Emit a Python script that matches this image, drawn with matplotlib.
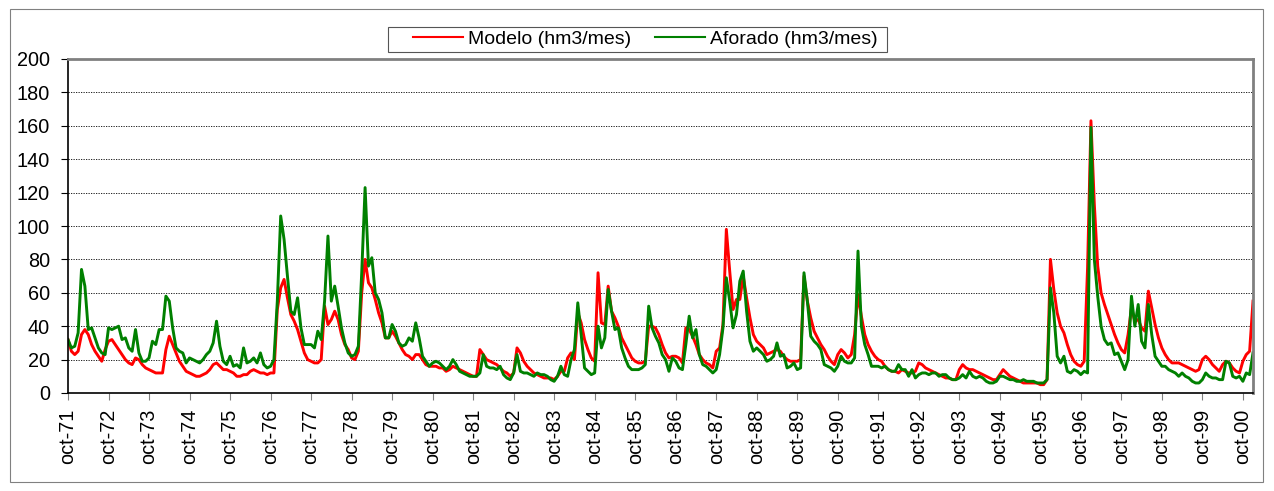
import numpy as np
import matplotlib.pyplot as plt
from matplotlib.patches import Rectangle

plt.rcParams['font.family'] = ['Liberation Sans', 'DejaVu Sans']

# Caudal mensual (hm3/mes), un año hidrológico por fila (oct..sep)
modelo = [
    32, 25, 23, 25, 35, 38, 35, 29, 25, 22, 19, 26,
    31, 32, 29, 26, 23, 20, 18, 17, 21, 20, 17, 15,
    14, 13, 12, 12, 12, 26, 34, 29, 24, 19, 16, 13,
    12, 11, 10, 10, 11, 12, 14, 17, 18, 16, 14, 14,
    13, 12, 10, 10, 11, 11, 13, 14, 13, 12, 12, 11,
    12, 12, 50, 63, 68, 57, 47, 43, 38, 31, 24, 20,
    19, 18, 18, 20, 52, 41, 44, 49, 44, 35, 29, 26,
    21, 20, 25, 60, 80, 66, 63, 56, 48, 42, 33, 33,
    37, 34, 30, 26, 23, 22, 20, 23, 23, 20, 17, 16,
    16, 16, 15, 15, 13, 14, 16, 15, 14, 13, 12, 11,
    10, 10, 26, 23, 20, 19, 18, 17, 15, 13, 12, 10,
    12, 27, 24, 19, 16, 14, 12, 11, 10, 9, 9, 9,
    8, 10, 13, 13, 21, 24, 20, 48, 42, 32, 26, 21,
    19, 72, 42, 41, 64, 49, 45, 40, 33, 29, 25, 21,
    19, 18, 18, 19, 40, 40, 39, 35, 29, 24, 21, 22,
    22, 21, 18, 39, 38, 34, 29, 23, 20, 18, 17, 15,
    25, 27, 41, 98, 73, 50, 56, 56, 70, 57, 45, 35,
    31, 29, 27, 23, 24, 25, 26, 25, 22, 20, 19, 19,
    19, 20, 70, 55, 45, 37, 33, 29, 26, 22, 19, 17,
    23, 26, 24, 21, 23, 35, 59, 46, 35, 29, 25, 22,
    20, 19, 16, 14, 13, 13, 12, 14, 13, 12, 12, 13,
    18, 17, 15, 14, 13, 12, 11, 10, 9, 9, 8, 8,
    14, 17, 15, 14, 14, 13, 12, 11, 10, 9, 8, 8,
    11, 14, 12, 10, 9, 8, 7, 6, 6, 6, 6, 6,
    5, 5, 8, 80, 62, 48, 40, 36, 29, 23, 19, 17,
    16, 19, 75, 163, 113, 76, 60, 53, 47, 41, 35, 30,
    26, 24, 35, 51, 43, 44, 39, 37, 61, 51, 41, 33,
    27, 23, 20, 18, 18, 18, 17, 16, 15, 14, 13, 14,
    20, 22, 20, 17, 15, 13, 17, 19, 18, 15, 13, 12,
    19, 23, 25, 55,
]

aforado = [
    32, 27, 28, 36, 74, 64, 38, 39, 33, 27, 24, 23,
    39, 38, 39, 40, 32, 33, 27, 25, 38, 24, 19, 19,
    21, 31, 29, 38, 38, 58, 55, 39, 27, 25, 24, 18,
    21, 20, 19, 18, 20, 23, 25, 30, 43, 28, 19, 17,
    22, 16, 17, 15, 27, 18, 19, 21, 18, 24, 17, 15,
    16, 20, 55, 106, 92, 70, 49, 47, 57, 39, 29, 29,
    29, 27, 37, 32, 55, 94, 55, 64, 52, 39, 30, 24,
    22, 23, 28, 72, 123, 76, 81, 60, 56, 48, 33, 33,
    41, 37, 30, 28, 29, 33, 31, 42, 33, 22, 19, 16,
    18, 19, 18, 16, 14, 16, 20, 17, 13, 12, 11, 10,
    10, 10, 12, 23, 16, 15, 15, 14, 16, 11, 9, 8,
    12, 23, 13, 12, 12, 11, 10, 12, 11, 11, 10, 8,
    7, 10, 16, 11, 10, 20, 26, 54, 35, 15, 13, 11,
    12, 40, 27, 33, 62, 49, 38, 39, 27, 21, 16, 14,
    14, 14, 15, 17, 52, 39, 34, 30, 23, 20, 13, 21,
    19, 15, 14, 29, 46, 33, 38, 23, 17, 16, 14, 12,
    14, 23, 39, 69, 55, 39, 47, 67, 73, 49, 31, 25,
    27, 25, 23, 19, 20, 22, 30, 22, 23, 15, 16, 18,
    14, 15, 72, 55, 34, 31, 29, 26, 17, 16, 15, 13,
    16, 22, 19, 18, 18, 21, 85, 40, 29, 23, 16, 16,
    16, 15, 16, 14, 13, 13, 17, 14, 14, 10, 14, 9,
    11, 12, 12, 11, 12, 12, 10, 11, 11, 9, 8, 8,
    9, 11, 9, 13, 10, 9, 10, 9, 7, 6, 6, 7,
    10, 10, 9, 8, 8, 7, 7, 8, 7, 7, 7, 6,
    6, 6, 8, 63, 48, 22, 18, 22, 13, 12, 14, 13,
    11, 13, 12, 159, 80, 58, 40, 32, 29, 30, 23, 24,
    19, 14, 20, 58, 40, 53, 31, 27, 53, 35, 22, 19,
    16, 16, 14, 13, 12, 10, 12, 10, 9, 7, 6, 6,
    8, 12, 10, 9, 9, 8, 8, 19, 18, 10, 9, 10,
    7, 12, 11, 24,
]

years = list(range(71, 100)) + [0]
tick_labels = ['oct-%02d' % y for y in years]

meses = np.arange(len(modelo))

W, H = 1274, 491
fig = plt.figure(figsize=(W / 100, H / 100), dpi=100)
ax = fig.add_axes([68 / W, 1 - 393 / H, (1253 - 68) / W, (393 - 59) / H])

# borde del área del gráfico
fig.patches.append(Rectangle((10 / W, 9 / H), 1253 / W, 1 - 18 / H,
                             transform=fig.transFigure, fill=False,
                             edgecolor='#808080', linewidth=0.8))
# marco de la leyenda
fig.patches.append(Rectangle((388 / W, 1 - 52 / H), (887 - 388) / W, 25 / H,
                             transform=fig.transFigure, fill=False,
                             edgecolor='#555555', linewidth=0.8))

ax.plot(meses, modelo, color='#ff0000', lw=2.1, label='Modelo (hm3/mes)')
ax.plot(meses, aforado, color='#008000', lw=2.1, label='Aforado (hm3/mes)')

ax.set_xlim(0, len(modelo) - 1)
ax.set_ylim(0, 200)
ax.set_yticks(range(0, 201, 20))
ax.set_xticks(np.arange(0, 12 * len(tick_labels), 12))
ax.set_xticklabels(tick_labels, rotation=90)
ax.tick_params(axis='both', labelsize=14.3, direction='out', length=5, width=0.8)
ax.tick_params(axis='y', pad=8)
ax.tick_params(axis='x', pad=6, colors='#808080', labelcolor='black')
ax.grid(axis='y', color='black', linestyle=(0, (1.5, 1.5)), linewidth=0.6)
ax.set_axisbelow(True)

ax.spines['top'].set_color('#808080')
ax.spines['right'].set_color('#808080')
ax.spines['top'].set_linewidth(2)
ax.spines['right'].set_linewidth(2)
ax.spines['left'].set_linewidth(1.2)
ax.spines['bottom'].set_linewidth(1.2)

leg = fig.legend(loc='center left', bbox_to_anchor=(413 / W, 1 - 39.5 / H), ncol=2,
                 fontsize=14, frameon=False, handlelength=2.58,
                 columnspacing=1.23, borderpad=0, handletextpad=0.26,
                 borderaxespad=0)
for line in leg.get_lines():
    line.set_linewidth(1.5)

fig.savefig('out.png', dpi=100)
